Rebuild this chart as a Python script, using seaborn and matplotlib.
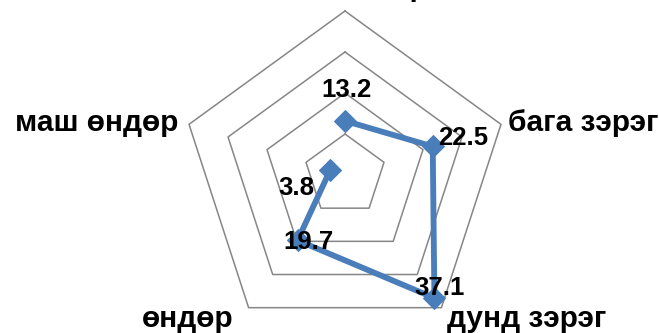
import numpy as np
import matplotlib.pyplot as plt
import seaborn as sns

categories = ["маш бага зэрэг", "бага зэрэг", "дунд зэрэг", "өндөр", "маш өндөр"]
values = [13.2, 22.5, 37.1, 19.7, 3.8]
ring_levels = [10, 20, 30, 40]


def main() -> None:
    sns.set_theme(style="white")
    plt.rcParams["font.family"] = ["Liberation Sans", "DejaVu Sans"]
    plt.rcParams["font.weight"] = "bold"

    line_color = "#4A7EBB"
    grid_color = "#868686"

    fig = plt.figure(figsize=(6.59, 3.33), dpi=100)
    # centre of the web at about (345, 175) px, outer ring radius ~164 px
    ax = fig.add_axes(
        [(345 - 164) / 659, (333 - 175 - 164) / 333, 328 / 659, 328 / 333],
        projection="polar",
    )
    ax.set_theta_zero_location("N")
    ax.set_theta_direction(-1)

    n = len(categories)
    theta = np.deg2rad(np.arange(n) * 360 / n)
    theta_closed = np.append(theta, theta[0])

    # pentagon grid
    for level in ring_levels:
        ax.plot(theta_closed, [level] * (n + 1), color=grid_color, lw=1.1,
                clip_on=False, zorder=1)

    sns.lineplot(
        x=theta_closed,
        y=values + values[:1],
        sort=False,
        color=line_color,
        lw=4.2,
        marker="D",
        markersize=11,
        markeredgecolor=line_color,
        ax=ax,
        zorder=3,
    )

    ax.set_ylim(0, max(ring_levels))
    ax.grid(False)
    ax.spines["polar"].set_visible(False)
    ax.set_xticks([])
    ax.set_yticks([])
    ax.set_facecolor("none")

    # category labels just outside the outer ring
    cat_style = [
        ((0, 11), "center", "baseline"),
        ((5, 1), "left", "center"),
        ((4, -8), "left", "center"),
        ((-11, -8), "right", "center"),
        ((-8, 1), "right", "center"),
    ]
    for t, label, (off, ha, va) in zip(theta, categories, cat_style):
        ax.annotate(label, xy=(t, max(ring_levels)), xytext=off,
                    textcoords="offset points", ha=ha, va=va,
                    fontsize=21.5, fontweight="bold", color="black",
                    annotation_clip=False)

    # data labels
    label_offsets = [(1, 22), (22, 6), (4, 7.5), (8, -1), (-24, -13)]
    for t, v, off in zip(theta, values, label_offsets):
        ax.annotate(f"{v:.1f}", xy=(t, v), xytext=off,
                    textcoords="offset points", ha="center", va="center",
                    fontsize=18.5, fontweight="bold", color="black",
                    zorder=4, annotation_clip=False)

    fig.savefig("out.png", dpi=100)
    plt.close(fig)


if __name__ == "__main__":
    main()
